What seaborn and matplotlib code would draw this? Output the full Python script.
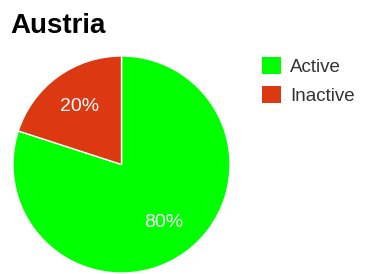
import seaborn as sns
from matplotlib import pyplot as plt
from matplotlib.patches import Patch

# data
labels = ['Active', 'Inactive']
values = [80, 20]
colors = ['#00ff00', '#dc3912']

sns.set_style('white')
plt.rcParams['font.family'] = ['Liberation Sans', 'DejaVu Sans']

fig = plt.figure(figsize=(3.65, 2.74), dpi=100)
ax = fig.add_axes([13 / 365, 1 / 274, 217 / 365, 217 / 274])

wedges, texts, autotexts = ax.pie(
    values, colors=colors, startangle=90, counterclock=False,
    autopct='%1.0f%%', pctdistance=0.66,
    wedgeprops={'edgecolor': 'white', 'linewidth': 1},
    textprops={'color': 'white', 'fontsize': 14},
)
ax.set_xlim(-1, 1)
ax.set_ylim(-1, 1)
ax.set_aspect('equal')

fig.text(10 / 365, 1 - 33 / 274, 'Austria', fontsize=20, fontweight='bold',
         color='black', ha='left', va='baseline')

handles = [Patch(facecolor=c, edgecolor='none', label=l) for c, l in zip(colors, labels)]
fig.legend(handles=handles, loc='upper left', bbox_to_anchor=(245 / 365, 1 - 40 / 274),
           frameon=False, fontsize=13.5, handlelength=1.0, handleheight=1.0,
           handletextpad=0.5, labelspacing=0.55, labelcolor='#333333')

fig.savefig('out.png', dpi=100)
